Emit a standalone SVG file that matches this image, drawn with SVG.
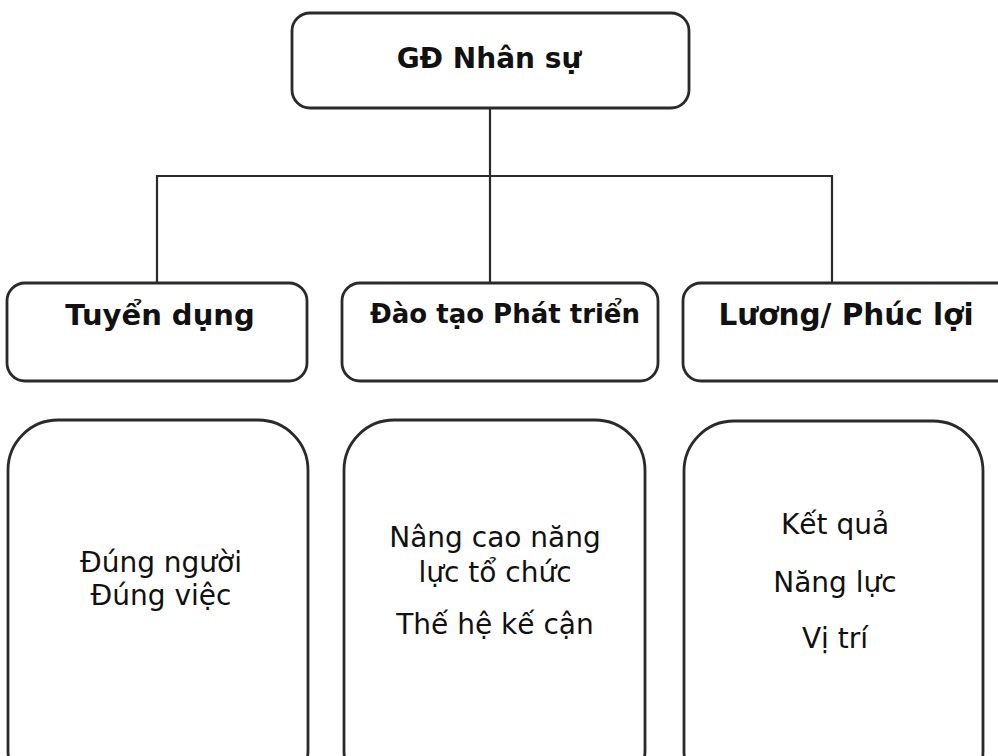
<svg xmlns="http://www.w3.org/2000/svg" width="998" height="756" viewBox="0 0 998 756">
<style>
.box{fill:#fff;stroke:#2a2a2a;stroke-width:2.8}
.con{fill:none;stroke:#2a2a2a;stroke-width:2.2}
.h{font-family:"DejaVu Sans",Verdana,sans-serif;font-weight:bold;fill:#111;text-anchor:middle}
.t{font-family:"DejaVu Sans",Verdana,sans-serif;fill:#111;text-anchor:middle;font-size:28px}
</style>
<rect width="998" height="756" fill="#fff"/>
<g id="connectors">
<path class="con" d="M490 108 V176 M157 283 V176 H832 V283 M490 176 V283"/>
</g>
<g id="top"><rect class="box" x="292" y="13" width="397" height="95" rx="18"/><text class="h" x="489" y="68" font-size="28">GĐ Nhân sự</text></g>
<g id="tuyen"><rect class="box" x="7" y="283" width="300" height="98" rx="18"/><text class="h" x="160" y="325" font-size="29">Tuyển dụng</text></g>
<g id="daotao"><rect class="box" x="342" y="283" width="316" height="98" rx="18"/><text class="h" x="505" y="323" font-size="26">Đào tạo Phát triển</text></g>
<g id="luong"><rect class="box" x="683" y="283" width="340" height="98" rx="18"/><text class="h" x="846" y="325" font-size="29.5">Lương/ Phúc lợi</text></g>
<g id="b1"><rect class="box" x="8" y="420" width="300" height="380" rx="50"/><text class="t" x="161" y="572">Đúng người</text><text class="t" x="161" y="605">Đúng việc</text></g>
<g id="b2"><rect class="box" x="344" y="420" width="301" height="380" rx="50"/><text class="t" x="495" y="547">Nâng cao năng</text><text class="t" x="495" y="582">lực tổ chức</text><text class="t" x="495" y="634">Thế hệ kế cận</text></g>
<g id="b3"><rect class="box" x="684" y="421" width="299" height="380" rx="50"/><text class="t" x="835" y="534">Kết quả</text><text class="t" x="835" y="592">Năng lực</text><text class="t" x="835" y="648">Vị trí</text></g>
</svg>
